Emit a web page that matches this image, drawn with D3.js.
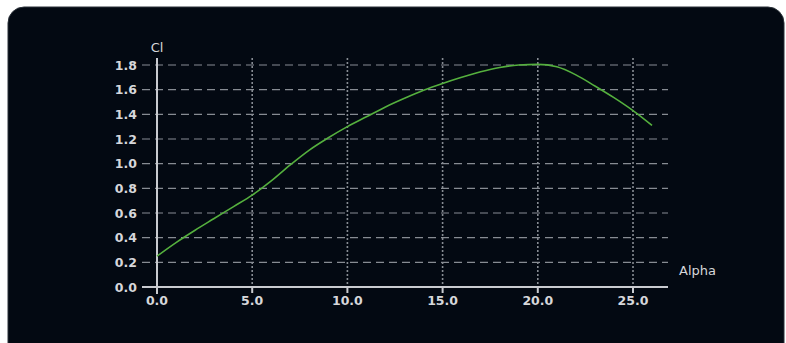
<!DOCTYPE html>
<html>
<head>
<meta charset="utf-8">
<script src="https://cdn.jsdelivr.net/npm/d3@7"></script>
<style>
  html, body { margin: 0; padding: 0; background: #ffffff; }
  svg { display: block; }
</style>
</head>
<body>
<svg id="chart" width="786" height="343"></svg>
<script>
// Lift coefficient against angle of attack
const alpha = [0, 1, 2, 3, 4, 5, 6, 7, 8, 9, 10, 11, 12, 13, 14, 15, 16, 17, 18, 19, 20, 21, 22, 23, 24, 25, 26];
const cl    = [0.25, 0.36, 0.46, 0.555, 0.65, 0.745, 0.86, 0.99, 1.11, 1.21, 1.30, 1.38, 1.46, 1.53, 1.595, 1.65,
               1.70, 1.745, 1.78, 1.80, 1.805, 1.785, 1.72, 1.63, 1.535, 1.43, 1.31];
const xTicks = [0, 5, 10, 15, 20, 25];
const yTicks = [0, 0.2, 0.4, 0.6, 0.8, 1.0, 1.2, 1.4, 1.6, 1.8];
const xTitle = "Alpha";
const yTitle = "Cl";

const svg = d3.select("#chart");

// dark rounded panel
svg.append("rect")
  .attr("x", 8).attr("y", 7).attr("width", 776).attr("height", 360)
  .attr("rx", 16).attr("ry", 16)
  .attr("fill", "#030912")
  .attr("stroke", "#2b3139").attr("stroke-width", 1);

const x = d3.scaleLinear().domain([0, 25]).range([157, 633]);
const y = d3.scaleLinear().domain([0, 1.8]).range([287, 65]);

const xLeft = 142, xRight = 668, yTop = 58, yBottom = 287;

const grid = svg.append("g");
// horizontal dashed gridlines
grid.selectAll("line.h").data(yTicks.filter(d => d > 0)).enter().append("line")
  .attr("x1", xLeft).attr("x2", xRight)
  .attr("y1", d => y(d)).attr("y2", d => y(d))
  .attr("stroke", "#878c93").attr("stroke-width", 1.2)
  .attr("stroke-dasharray", "8,5");
// vertical dotted gridlines
grid.selectAll("line.v").data(xTicks.filter(d => d > 0)).enter().append("line")
  .attr("x1", d => x(d)).attr("x2", d => x(d))
  .attr("y1", yTop).attr("y2", yBottom)
  .attr("stroke", "#878c93").attr("stroke-width", 1.6)
  .attr("stroke-dasharray", "2,2");

// axes
const axisColor = "#c9cbd0";
svg.append("line").attr("x1", xLeft).attr("x2", xRight).attr("y1", yBottom).attr("y2", yBottom)
  .attr("stroke", axisColor).attr("stroke-width", 2);
svg.append("line").attr("x1", x(0)).attr("x2", x(0)).attr("y1", yTop).attr("y2", yBottom + 7)
  .attr("stroke", axisColor).attr("stroke-width", 2);
svg.selectAll("line.xt").data(xTicks.filter(d => d > 0)).enter().append("line")
  .attr("x1", d => x(d)).attr("x2", d => x(d))
  .attr("y1", yBottom).attr("y2", yBottom + 6)
  .attr("stroke", axisColor).attr("stroke-width", 2);

const labelFont = "'DejaVu Sans', Verdana, sans-serif";
svg.selectAll("text.xl").data(xTicks).enter().append("text")
  .attr("x", d => x(d)).attr("y", yBottom + 18)
  .attr("text-anchor", "middle")
  .attr("font-family", labelFont).attr("font-weight", "bold").attr("font-size", 12.5)
  .attr("fill", "#d6d7da")
  .text(d => d.toFixed(1));
svg.selectAll("text.yl").data(yTicks).enter().append("text")
  .attr("x", 137).attr("y", d => y(d) + 4.5)
  .attr("text-anchor", "end")
  .attr("font-family", labelFont).attr("font-weight", "bold").attr("font-size", 12.5)
  .attr("fill", "#d6d7da")
  .text(d => d.toFixed(1));

svg.append("text").attr("x", 157).attr("y", 52).attr("text-anchor", "middle")
  .attr("font-family", labelFont).attr("font-size", 13).attr("fill", "#d6d7da")
  .text(yTitle);
svg.append("text").attr("x", 679).attr("y", 275)
  .attr("font-family", labelFont).attr("font-size", 13).attr("fill", "#d6d7da")
  .text(xTitle);

// lift curve
const line = d3.line().x((d, i) => x(alpha[i])).y(d => y(d)).curve(d3.curveMonotoneX);
svg.append("path").datum(cl)
  .attr("d", line)
  .attr("fill", "none")
  .attr("stroke", "#55b03e").attr("stroke-width", 1.6);
</script>
</body>
</html>
